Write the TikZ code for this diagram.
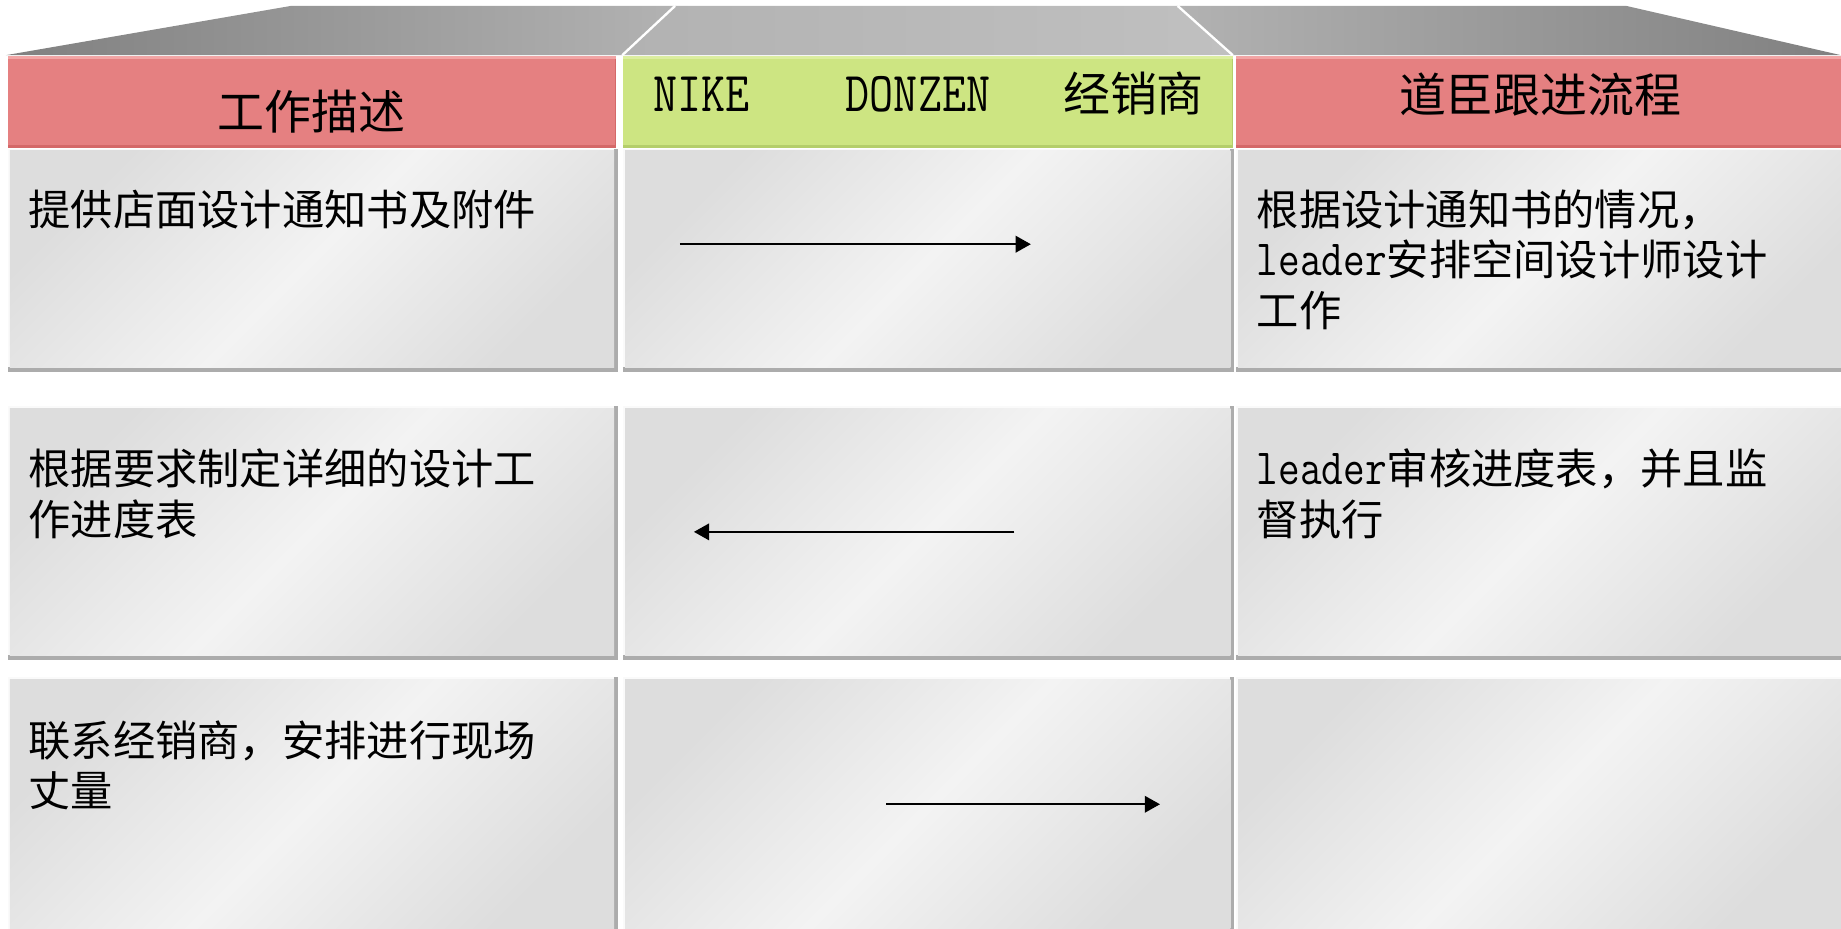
\documentclass[tikz,border=0pt]{standalone}
\usepackage{fontspec}
\setmainfont{Noto Sans CJK SC}
\newfontfamily\lat[FakeStretch=0.83,Scale=1.2]{Latin Modern Mono}
\usetikzlibrary{arrows.meta}
\definecolor{hred}{RGB}{229,128,129}
\definecolor{hredT}{RGB}{242,165,165}
\definecolor{hredB}{RGB}{212,104,104}
\definecolor{hgreen}{RGB}{205,229,130}
\definecolor{hgreenT}{RGB}{220,238,160}
\definecolor{hgreenB}{RGB}{180,206,106}
\definecolor{cdark}{RGB}{221,221,221}
\definecolor{clight}{RGB}{243,243,243}
\definecolor{cedge}{RGB}{172,172,172}
\definecolor{cedgeL}{RGB}{250,250,250}
\definecolor{bandD}{RGB}{128,128,128}
\definecolor{bandM}{RGB}{178,178,178}
\definecolor{bandL}{RGB}{192,192,192}
\tikzset{
  cellface/.style={left color=cdark, right color=cdark, shading angle=45, middle color=clight},
  body/.style={anchor=base west, inner sep=0pt, font=\fontsize{18}{21.5}\selectfont, text=black},
  head/.style={inner sep=0pt, font=\fontsize{20}{24}\selectfont, text=black},
  flow/.style={line width=1pt, -{Triangle[length=6.5pt,width=7pt]}},
}
\newcommand\mycell[4]{%
  \fill[cedge] (#1,#2) rectangle (#3,#4);
  \fill[cedgeL] (#1,#2) rectangle (#3-3,#4-4);
  \shade[cellface] (#1+1.5,#2+1.5) rectangle (#3-3,#4-4);
}
\begin{document}
\begin{tikzpicture}[x=0.5pt,y=-0.5pt]
\useasboundingbox (0,0) rectangle (1568,791);
% top band
\shade[left color=bandD, right color=bandM] (5,47) -- (248,5) -- (575,5) -- (530,47) -- cycle;
\shade[left color=bandM, right color=bandL] (530,47) -- (575,5) -- (1003,5) -- (1050,47) -- cycle;
\shade[left color=bandM, right color=bandD] (1050,47) -- (1003,5) -- (1385,5) -- (1568,47) -- cycle;
\draw[white, line width=1pt] (575,5) -- (530,47);
\draw[white, line width=1pt] (1003,5) -- (1050,47);
% headers
\fill[hredB] (7,48) rectangle (525,126);
\fill[hredT] (7,48) rectangle (525,50.5);
\fill[hred] (7,50.5) rectangle (524,123.5);
\fill[hgreenB] (531,48) rectangle (1050,126);
\fill[hgreenT] (531,48) rectangle (1050,50.5);
\fill[hgreen] (531,50.5) rectangle (1049,123.5);
\fill[hredB] (1053,48) rectangle (1570,126);
\fill[hredT] (1053,48) rectangle (1570,50.5);
\fill[hred] (1053,50.5) rectangle (1570,123.5);
% cells
\mycell{7}{127}{526}{317}
\mycell{531}{127}{1051}{317}
\mycell{1053}{127}{1572}{317}
\mycell{7}{346}{526}{562}
\mycell{531}{346}{1051}{562}
\mycell{1053}{346}{1572}{562}
\mycell{7}{577}{526}{800}
\mycell{531}{577}{1051}{800}
\mycell{1053}{577}{1572}{800}
% header texts
\node[head, anchor=base] (h1) at (265,110) {工作描述};
\node[head, anchor=base west] (h2) at (556,95) {\makebox[82pt][l]{\lat NIKE}\makebox[92.5pt][l]{\lat DONZEN}经销商};
\node[head, anchor=base] (h3) at (1312,96) {道臣跟进流程};
% body texts
\node[body] (r1c1) at (24,192) {提供店面设计通知书及附件};
\node[body] (r1c3a) at (1070,192) {根据设计通知书的情况，};
\node[body] (r1c3b) at (1070,235) {{\lat leader}安排空间设计师设计};
\node[body] (r1c3c) at (1070,278) {工作};
\node[body] (r2c1a) at (24,413) {根据要求制定详细的设计工};
\node[body] (r2c1b) at (24,456) {作进度表};
\node[body] (r2c3a) at (1070,413) {{\lat leader}审核进度表，并且监};
\node[body] (r2c3b) at (1070,456) {督执行};
\node[body] (r3c1a) at (24,644) {联系经销商，安排进行现场};
\node[body] (r3c1b) at (24,687) {丈量};
% arrows
\coordinate (a1s) at (579,208);
\coordinate (a1e) at (878,208);
\coordinate (a2s) at (864,453);
\coordinate (a2e) at (591,453);
\coordinate (a3s) at (755,685);
\coordinate (a3e) at (988,685);
\draw[flow] (a1s) -- (a1e);
\draw[flow] (a2s) -- (a2e);
\draw[flow] (a3s) -- (a3e);
\end{tikzpicture}
\end{document}
